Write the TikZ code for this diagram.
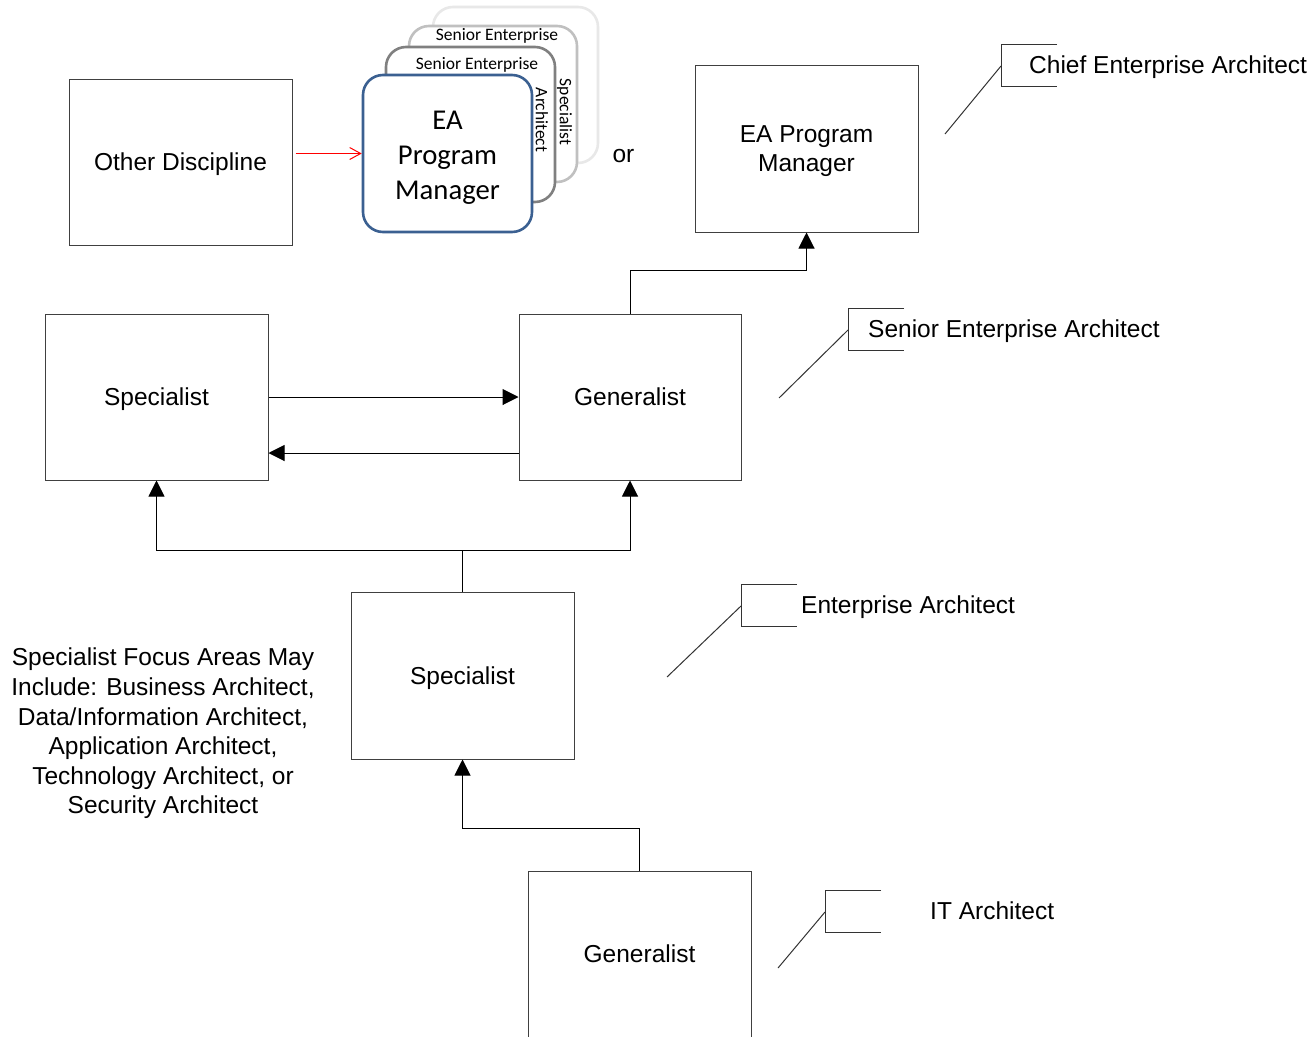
\documentclass[tikz,border=0pt]{standalone}
\usepackage{fontspec}
\setmainfont{Liberation Sans}
\newfontfamily\calib{Carlito}
\usetikzlibrary{arrows.meta}
\definecolor{cardblue}{RGB}{59,96,145}
\definecolor{cardgray}{RGB}{128,128,128}
\definecolor{cardlight}{RGB}{192,192,192}
\definecolor{cardfaint}{RGB}{232,232,232}
\tikzset{
  box/.style={draw=black!75, line width=1pt, fill=white, minimum width=223pt, minimum height=166pt, inner sep=0pt, text depth=0pt, align=center, font=\fontsize{24.5}{29.5}\selectfont},
  arr/.style={draw=black, line width=1pt, -{Triangle[length=16pt,width=16pt]}},
  redarr/.style={draw=red, line width=1pt, -{Straight Barb[length=11pt,width=12pt,line width=1pt]}},
  card/.style={line width=2.6pt, fill=white, rounded corners=20pt, minimum width=168pt, minimum height=156pt, inner sep=0pt},
  cardtxt/.style={font=\calib\fontsize{17.5}{20}\selectfont, inner sep=0pt, text depth=0pt},
  bracket/.style={draw=black!80, line width=1pt},
  lbl/.style={font=\fontsize{24.5}{29.5}\selectfont, inner sep=0pt, text depth=0pt, anchor=west},
}
\begin{document}
\begin{tikzpicture}[x=1pt,y=-1pt]
\clip (0,0) rectangle (1316,1036);
\fill[white] (0,0) rectangle (1316,1036);

% main boxes
\node[box] (other) at (180.5,162) {Other Discipline};
\node[box, minimum height=167pt] (eapm) at (806.5,148.5) {EA Program\\Manager};
\node[box] (specL) at (156.5,397) {Specialist};
\node[box, minimum width=222pt] (genM) at (630,397) {Generalist};
\node[box, minimum height=167pt] (specB) at (462.5,675.5) {Specialist};
\node[box] (genB) at (639.5,954) {Generalist};

% stacked cards
\node[card, draw=cardfaint, minimum width=165pt] (c4) at (515.5,85) {};
\node[card, draw=cardlight] (c3) at (493,104) {};
\node[card, draw=cardgray, minimum width=169pt, minimum height=155pt] (c2) at (470.5,124.5) {};
\node[card, draw=cardblue, minimum width=169pt, minimum height=157pt] (c1) at (447.5,153.5) {};
\node[cardtxt] (t3) at (497,34) {Senior Enterprise};
\node[cardtxt, rotate=-90] (t3b) at (566,112) {Specialist};
\node[cardtxt] (t2) at (477,63) {Senior Enterprise};
\node[cardtxt, rotate=-90] (t2b) at (542,120) {Architect};
\node[font=\calib\fontsize{28.7}{35}\selectfont, align=center, inner sep=0pt, text depth=0pt] (t1) at (447.5,155) {EA\\Program\\Manager};
\node[font=\fontsize{24.5}{29.5}\selectfont, inner sep=0pt] (or) at (623.5,156) {or};

% connectors
\draw[redarr] ([xshift=3pt]other.east |- c1.west) -- (c1.west);
\draw[arr] (genM.north) -- ++(0,-43) -| (eapm.south);
\draw[arr] (specL.east) -- (genM.west);
\draw[arr] ([yshift=-56pt]genM.west) -- ([yshift=-56pt]specL.east);
\coordinate (split) at (462.5,550);
\draw[draw=black, line width=1pt] (specB.north) -- (split);
\draw[arr] (split) -| (specL.south);
\draw[arr] (split) -| (genM.south);
\draw[arr] (genB.north) -- ++(0,-42) -| (specB.south);

% callouts
\node[lbl] (lchief) at (1029,65) {Chief Enterprise Architect};
\draw[bracket] (1057,44) -- (1001,44) -- (1001,86) -- (1057,86);
\draw[bracket] (945,134) -- (1001,66);

\node[lbl] (lsenior) at (868,329) {Senior Enterprise Architect};
\draw[bracket] (904,308) -- (848,308) -- (848,350) -- (904,350);
\draw[bracket] (779,398) -- (848,330);

\node[lbl] (lea) at (801,605) {Enterprise Architect};
\draw[bracket] (797,584) -- (741,584) -- (741,626) -- (797,626);
\draw[bracket] (667,677) -- (741,606);

\node[lbl] (lit) at (930,911) {IT Architect};
\draw[bracket] (881,890) -- (825,890) -- (825,932) -- (881,932);
\draw[bracket] (778,968) -- (825,912);

% focus areas note
\node[font=\fontsize{24.5}{29.6}\selectfont, align=center, inner sep=0pt, text depth=0pt] (focus) at (163,731) {Specialist Focus Areas May\\Include: Business Architect,\\Data/Information Architect,\\Application Architect,\\Technology Architect, or\\Security Architect};
\end{tikzpicture}
\end{document}
